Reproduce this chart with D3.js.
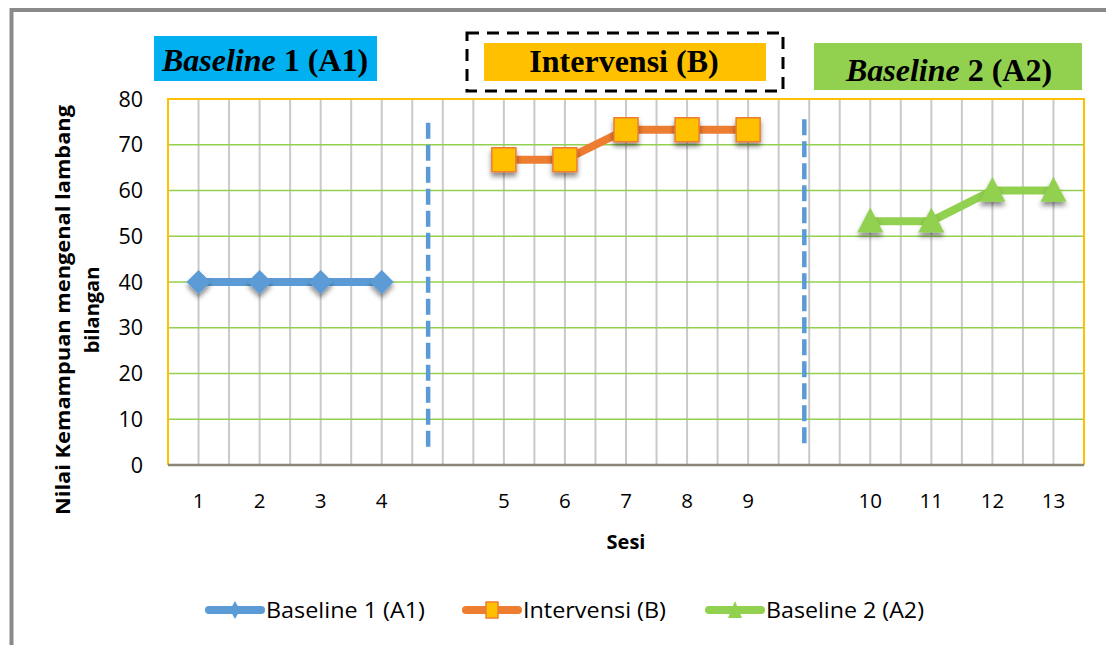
<!DOCTYPE html>
<html><head><meta charset="utf-8">
<script src="https://cdn.jsdelivr.net/npm/d3@7"></script>
<style>body{margin:0;background:#fff}svg{display:block}</style>
</head><body>
<svg id="c" width="1106" height="645"></svg>
<script>
const categories = ["1","2","3","4","","5","6","7","8","9","","10","11","12","13"];
const baseline1 = [40,40,40,40,null,null,null,null,null,null,null,null,null,null,null];
const intervensi = [null,null,null,null,null,66.7,66.7,73.3,73.3,73.3,null,null,null,null,null];
const baseline2 = [null,null,null,null,null,null,null,null,null,null,null,53.3,53.3,60,60];
const yTicks = [0,10,20,30,40,50,60,70,80];
const seriesNames = ["Baseline 1 (A1)","Intervensi (B)","Baseline 2 (A2)"];
const phaseDividers = [{pos:4.26, y0:3.3, y1:74.8},{pos:10.42, y0:4.4, y1:75.6}];

const svg = d3.select("#c");
const W = 1106, H = 645;
const plot = {l:168, r:1084, t:99, b:465};
const idx = d3.range(categories.length);
const x = d3.scaleBand().domain(idx).range([plot.l, plot.r]).paddingInner(0).paddingOuter(0);
const bw = x.bandwidth();
const xs = d3.scaleLinear().domain([0, categories.length]).range([plot.l, plot.r]);
const y = d3.scaleLinear().domain([0,80]).range([plot.b, plot.t]);

const defs = svg.append("defs");
const f = defs.append("filter").attr("id","sh").attr("x","-50%").attr("y","-50%").attr("width","200%").attr("height","220%");
f.append("feDropShadow").attr("dx",0).attr("dy",4).attr("stdDeviation",2.5).attr("flood-color","#000").attr("flood-opacity",0.45);

// outer frame
svg.append("rect").attr("x",11.5).attr("y",10).attr("width",W+20).attr("height",H+20)
  .attr("fill","none").attr("stroke","#8a8a8a").attr("stroke-width",4);

// vertical gridlines at band starts and centres
const vlines = [];
idx.forEach(i=>{ if(i>0) vlines.push(x(i)); vlines.push(x(i)+bw/2); });
svg.append("g").selectAll("line").data(vlines).join("line")
  .attr("x1",d=>d).attr("x2",d=>d).attr("y1",plot.t).attr("y2",plot.b)
  .attr("stroke","#c9c9c9").attr("stroke-width",2);

// horizontal gridlines
svg.append("g").selectAll("line").data(yTicks.filter(v=>v>0 && v<80)).join("line")
  .attr("x1",plot.l).attr("x2",plot.r).attr("y1",d=>y(d)).attr("y2",d=>y(d))
  .attr("stroke","#92d050").attr("stroke-width",1.5);

// plot border yellow
svg.append("path").attr("d",`M${plot.l},${plot.b}V${plot.t}H${plot.r}V${plot.b}`)
  .attr("fill","none").attr("stroke","#ffc000").attr("stroke-width",2);
// bottom axis line
svg.append("line").attr("x1",plot.l).attr("x2",plot.r).attr("y1",plot.b).attr("y2",plot.b)
  .attr("stroke","#8b8577").attr("stroke-width",2.5);

// phase dividers
svg.append("g").selectAll("line").data(phaseDividers).join("line")
  .attr("x1",d=>xs(d.pos)).attr("x2",d=>xs(d.pos)).attr("y1",d=>y(d.y1)).attr("y2",d=>y(d.y0))
  .attr("stroke","#5b9bd5").attr("stroke-width",4.5).attr("stroke-dasharray","16,6");

// y tick labels
svg.append("g").selectAll("text").data(yTicks).join("text")
  .attr("x",143).attr("y",d=>y(d)).attr("dy","0.36em").attr("text-anchor","end")
  .attr("font-family","Open Sans").attr("font-size",21.5).attr("fill","#000").text(d=>d);

// x tick labels
svg.append("g").selectAll("text").data(idx.filter(i=>categories[i]!=="")).join("text")
  .attr("x",i=>x(i)+bw/2).attr("y",507.5).attr("text-anchor","middle")
  .attr("font-family","Open Sans").attr("font-size",20.5).attr("fill","#000").text(i=>categories[i]);

// axis titles
svg.append("text").attr("x",626).attr("y",549).attr("text-anchor","middle")
  .attr("font-family","Open Sans").attr("font-weight","bold").attr("font-size",20).text("Sesi");
const yt = svg.append("text").attr("transform","translate(70,310) rotate(-90)").attr("text-anchor","middle")
  .attr("font-family","Open Sans").attr("font-weight","bold").attr("font-size",20);
yt.append("tspan").attr("x",0).attr("y",0).attr("textLength",410).attr("lengthAdjust","spacingAndGlyphs").text("Nilai Kemampuan mengenal lambang");
yt.append("tspan").attr("x",0).attr("y",29).text("bilangan");

// series
const diamond = s => `M0,${-s}L${s},0L0,${s}L${-s},0Z`;
const square = s => `M${-s},${-s}H${s}V${s}H${-s}Z`;
const tri = (w,h) => `M0,${-h*0.55}L${w/2},${h*0.45}L${-w/2},${h*0.45}Z`;
const series = [
  {vals:baseline1, color:"#5b9bd5", mk:diamond(12), fill:"#5b9bd5", stroke:"none", lmk:"M0,-9L5,0L0,9L-5,0Z"},
  {vals:intervensi, color:"#ed7d31", mk:square(12), fill:"#ffc000", stroke:"#ed7d31", lmk:"M-6,-8H6V8H-6Z"},
  {vals:baseline2, color:"#92d050", mk:tri(26,25), fill:"#92d050", stroke:"none", lmk:"M0,-9L7,8L-7,8Z"}
];
const line = d3.line().defined(d=>d.v!=null).x(d=>x(d.i)+bw/2).y(d=>y(d.v));
series.forEach(s=>{
  const pts = s.vals.map((v,i)=>({i,v}));
  const g = svg.append("g");
  g.append("path").datum(pts).attr("d",line).attr("fill","none").attr("stroke",s.color).attr("stroke-width",8);
  g.selectAll("path.m").data(pts.filter(d=>d.v!=null)).join("path").attr("class","m")
    .attr("transform",d=>`translate(${x(d.i)+bw/2},${y(d.v)})`).attr("d",s.mk)
    .attr("fill",s.fill).attr("stroke",s.stroke).attr("stroke-width",1.5).attr("filter","url(#sh)");
});

// legend
const legX = [205, 462, 705];
const legLen = [159, 143, 158];
seriesNames.forEach((n,k)=>{
  const s = series[k], g = svg.append("g").attr("transform",`translate(${legX[k]},610)`);
  g.append("line").attr("x1",4).attr("x2",56).attr("stroke",s.color).attr("stroke-width",8).attr("stroke-linecap","round");
  g.append("path").attr("transform","translate(30,0)").attr("d",s.lmk).attr("fill",s.fill).attr("stroke",s.stroke).attr("stroke-width",1.5);
  g.append("text").attr("x",61).attr("dy","0.36em").attr("font-family","Open Sans").attr("font-size",21)
    .attr("textLength",legLen[k]).attr("lengthAdjust","spacingAndGlyphs").text(n);
});

// phase title boxes
const boxes = [
  {x:154,y:36,w:223,h:45,fill:"#00b0f0",tx:265,ty:71,it:"Baseline",rest:" 1 (A1)"},
  {x:484,y:43,w:282,h:38,fill:"#ffc000",tx:624,ty:72,it:"",rest:"Intervensi (B)"},
  {x:814,y:43,w:268,h:47,fill:"#92d050",tx:949,ty:81,it:"Baseline",rest:" 2 (A2)"}
];
svg.append("rect").attr("x",467).attr("y",33).attr("width",316).attr("height",58)
  .attr("fill","none").attr("stroke","#000").attr("stroke-width",3).attr("stroke-dasharray","12,8");
boxes.forEach(b=>{
  svg.append("rect").attr("x",b.x).attr("y",b.y).attr("width",b.w).attr("height",b.h).attr("fill",b.fill);
  const t = svg.append("text").attr("x",b.tx).attr("y",b.ty).attr("text-anchor","middle")
    .attr("font-family","Liberation Serif").attr("font-weight","bold").attr("font-size",32);
  if(b.it) t.append("tspan").attr("font-style","italic").text(b.it);
  t.append("tspan").text(b.rest);
});
</script>
</body></html>
